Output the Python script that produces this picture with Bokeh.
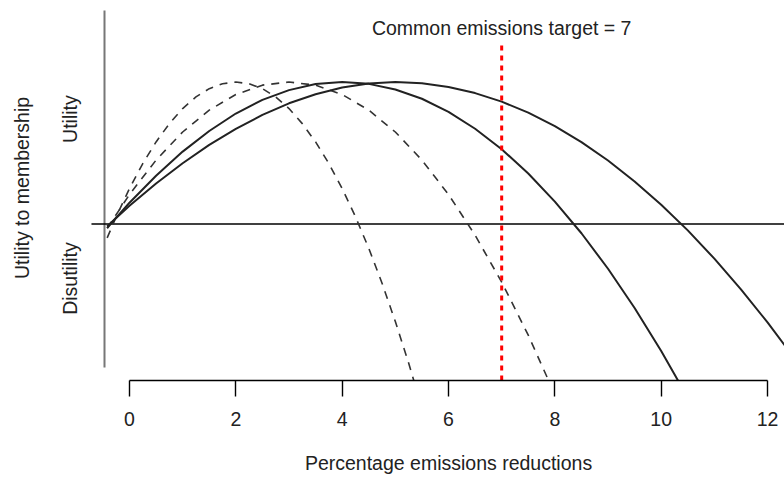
from bokeh.plotting import figure
from bokeh.models import Range1d, LinearAxis, FixedTicker
from bokeh.core.properties import value
from bokeh.embed import file_html
from bokeh.resources import INLINE

# ---------------- data ----------------
x_ticks = [0, 2, 4, 6, 8, 10, 12]
x_title = "Percentage emissions reductions"
target = 7
target_label = "Common emissions target = 7"

# dashed curve peaking at 2
a_x = [-0.42, -0.25, 0, 0.25, 0.5, 0.75, 1, 1.25, 1.5, 1.75, 2, 2.25, 2.5,
       2.75, 3, 3.25, 3.5, 3.75, 4, 4.25, 4.5, 4.75, 5, 5.25, 5.5]
a_y = [-0.098, 0.051, 0.250, 0.426, 0.578, 0.707, 0.813, 0.895, 0.953, 0.988,
       1.0, 0.988, 0.953, 0.895, 0.813, 0.707, 0.578, 0.426, 0.250, 0.051,
       -0.171, -0.417, -0.687, -0.979, -1.296]

# dashed curve peaking at 3
b_x = [-0.42, 0, 0.5, 1, 1.5, 2, 2.5, 3, 3.5, 4, 4.5, 5, 5.5, 6, 6.5, 7, 7.5, 8]
b_y = [-0.030, 0.208, 0.450, 0.648, 0.802, 0.912, 0.978, 1.0, 0.978, 0.912,
       0.802, 0.648, 0.450, 0.208, -0.079, -0.409, -0.783, -1.201]

# solid curve peaking at 4
c_x = [-0.42, 0, 0.5, 1, 1.5, 2, 2.5, 3, 3.5, 4, 4.5, 5, 5.5, 6, 6.5, 7, 7.5,
       8, 8.5, 9, 9.5, 10, 10.5]
c_y = [-0.028, 0.150, 0.340, 0.510, 0.655, 0.778, 0.874, 0.943, 0.986, 1.0,
       0.987, 0.947, 0.882, 0.790, 0.671, 0.527, 0.356, 0.158, -0.065, -0.315,
       -0.591, -0.894, -1.223]

# solid curve peaking at 5
d_x = [-0.42, 0, 0.5, 1, 1.5, 2, 2.5, 3, 3.5, 4, 4.5, 5, 5.5, 6, 6.5, 7, 7.5,
       8, 8.5, 9, 9.5, 10, 10.5, 11, 11.5, 12, 12.5]
d_y = [-0.015, 0.128, 0.285, 0.428, 0.557, 0.670, 0.768, 0.850, 0.914, 0.961,
       0.990, 1.0, 0.991, 0.965, 0.922, 0.862, 0.784, 0.689, 0.577, 0.447,
       0.300, 0.136, -0.045, -0.244, -0.460, -0.693, -0.943]

# ---------------- figure ----------------
FONT = "Liberation Sans"
TXT = "#222222"
FS = "19.5px"

p = figure(width=784, height=477,
           x_range=Range1d(-2.426, 12.319), y_range=Range1d(-1.102, 1.574),
           output_backend="svg", toolbar_location=None,
           x_axis_location=None, y_axis_location=None,
           min_border_left=0, min_border_right=0, min_border_top=0,
           min_border_bottom=97)
p.outline_line_color = None
p.grid.visible = False
p.background_fill_color = "white"
p.border_fill_color = "white"

xaxis = LinearAxis(ticker=FixedTicker(ticks=x_ticks), bounds=(0, 12))
xaxis.axis_line_color = "black"
xaxis.axis_line_width = 1.4
xaxis.major_tick_line_color = "black"
xaxis.major_tick_line_width = 1.4
xaxis.major_tick_out = 16
xaxis.major_tick_in = 0
xaxis.minor_tick_line_color = None
xaxis.major_label_standoff = 15
xaxis.major_label_text_font = FONT
xaxis.major_label_text_font_size = FS
xaxis.major_label_text_color = TXT
p.add_layout(xaxis, "below")

# x-axis title, centred under the middle of the 0..12 axis span
title_axis = LinearAxis(ticker=FixedTicker(ticks=[6]),
                        major_label_overrides={6: x_title})
title_axis.axis_line_color = None
title_axis.major_tick_line_color = None
title_axis.minor_tick_line_color = None
title_axis.major_tick_out = 0
title_axis.major_tick_in = 0
title_axis.major_label_standoff = 23
title_axis.major_label_text_font = FONT
title_axis.major_label_text_font_size = FS
title_axis.major_label_text_color = TXT
p.add_layout(title_axis, "below")

# vertical axis line and zero line
p.segment(x0=[-0.47], y0=[-1.011], x1=[-0.47], y1=[1.504],
          line_color="#777777", line_width=2)
p.segment(x0=[-0.715], y0=[0], x1=[12.6], y1=[0],
          line_color="black", line_width=1.4)

# curves
p.line(a_x, a_y, line_color="#333333", line_width=1.6, line_dash="8 7")
p.line(b_x, b_y, line_color="#333333", line_width=1.6, line_dash="8 7")
p.line(c_x, c_y, line_color="#222222", line_width=2)
p.line(d_x, d_y, line_color="#222222", line_width=2)

# target line
p.segment(x0=[target], y0=[-1.102], x1=[target], y1=[1.257],
          line_color="#ff0000", line_width=3, line_dash="5 5")

# texts
p.text(x=[target], y=[1.377], text=[target_label],
       text_font=value(FONT), text_font_size=FS, text_color=TXT,
       text_align="center", text_baseline="middle")
p.text(x=[-1.11, -1.11], y=[0.739, -0.384], text=["Utility", "Disutility"],
       angle=1.5708, text_font=value(FONT), text_font_size=FS,
       text_color=TXT, text_align="center", text_baseline="middle")
p.text(x=[-2.031], y=[0.254], text=["Utility to membership"],
       angle=1.5708, text_font=value(FONT), text_font_size=FS,
       text_color=TXT, text_align="center", text_baseline="middle")

open("out.html", "w").write(file_html(p, INLINE))
